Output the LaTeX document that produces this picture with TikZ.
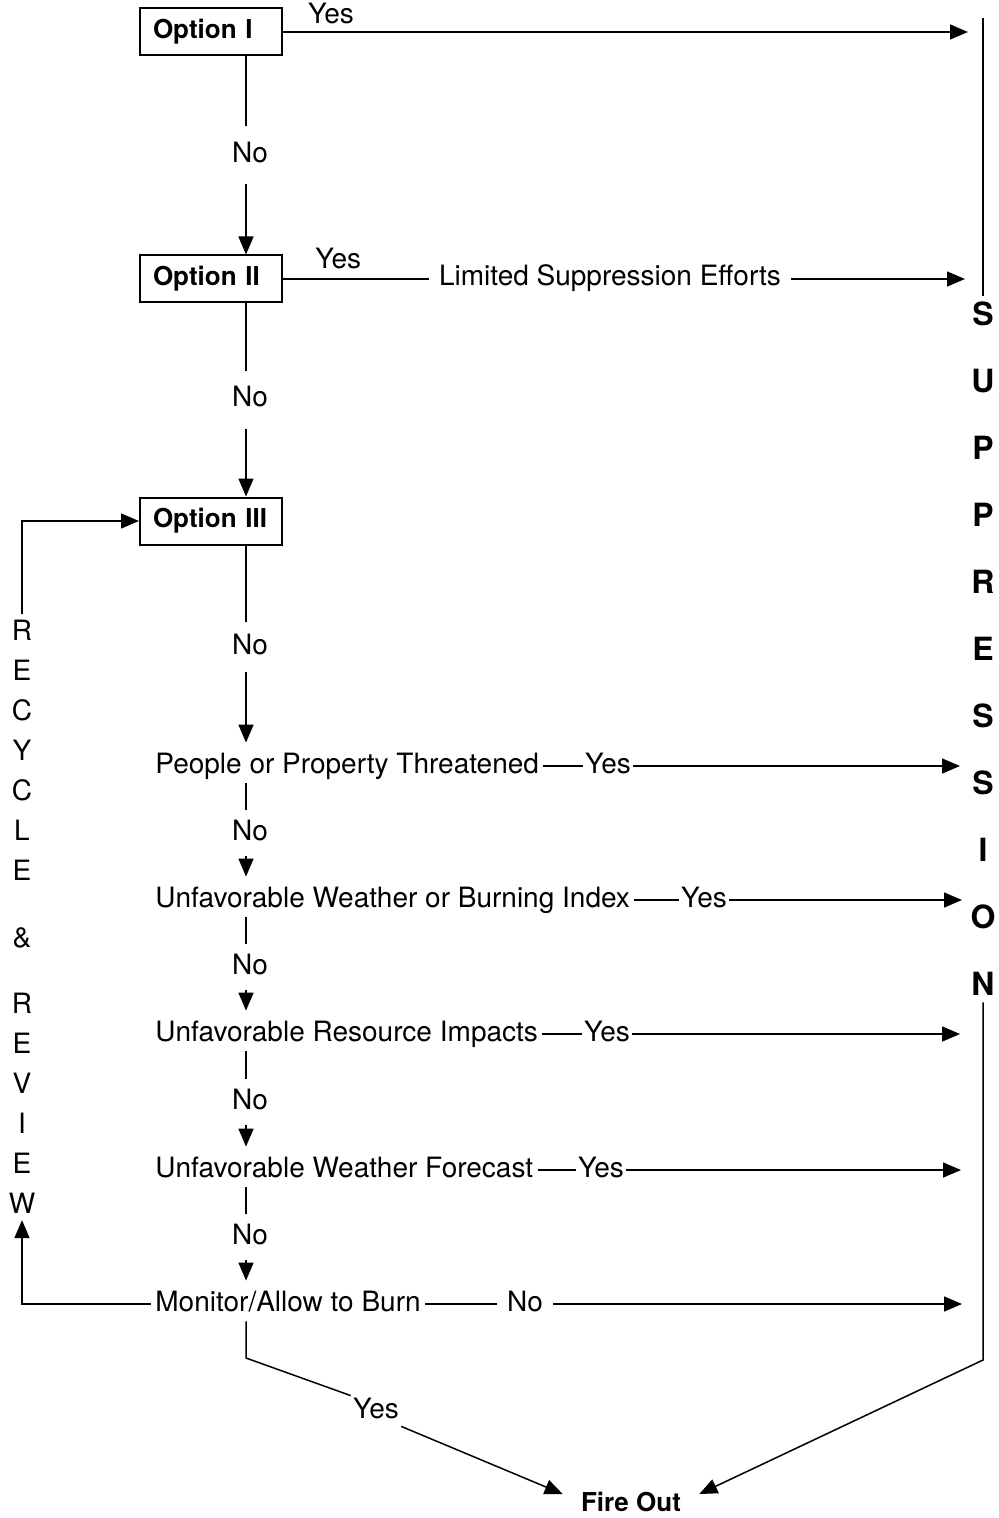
\documentclass[tikz,border=0pt]{standalone}
\usepackage{fontspec}
\setmainfont{TeX Gyre Heros}
\usetikzlibrary{arrows.meta}
\tikzset{
  optbox/.style={draw,line width=1pt,text width=58pt,align=left,inner xsep=6.5pt,minimum height=23.5pt,font=\bfseries\fontsize{13}{15}\selectfont},
  crit/.style={anchor=west,inner sep=2pt,text height=10pt,text depth=3pt,font=\fontsize{14}{16}\selectfont},
  lbl/.style={fill=white,inner sep=1pt,text height=10pt,text depth=3pt,font=\fontsize{14}{16}\selectfont},
  flow/.style={line width=0.75pt,-{Triangle[length=9pt,width=7.5pt]}},
  link/.style={line width=0.75pt}
}
\begin{document}
\begin{tikzpicture}[x=0.5pt,y=-0.5pt]
	\useasboundingbox (0,0) rectangle (999,1518);
	% option boxes
	\node[optbox] (opt1) at (211,32) {Option I};
	\node[optbox] (opt2) at (211,279) {Option II};
	\node[optbox] (opt3) at (211,521) {Option III};
	% questions
	\node[crit] (q1) at (151,766) {People or Property Threatened};
	\node[crit] (q2) at (151,900) {Unfavorable Weather or Burning Index};
	\node[crit] (q3) at (151,1034) {Unfavorable Resource Impacts};
	\node[crit] (q4) at (151,1170) {Unfavorable Weather Forecast};
	\node[crit] (mon) at (151,1304) {Monitor/Allow to Burn};
	\node[font=\bfseries\fontsize{13}{15}\selectfont,inner xsep=9pt] (fire) at (631,1502) {Fire Out};
	\node[lbl,inner xsep=5pt] (lse) at (610,279) {Limited Suppression Efforts};
	% side captions
	\node[font=\bfseries\fontsize{16}{33.5}\selectfont,align=center,inner sep=3pt] (supp) at (983,649) {S\\U\\P\\P\\R\\E\\S\\S\\I\\O\\N};
	\node[font=\fontsize{14}{20}\selectfont,align=center,inner sep=3pt] (recyc) at (22,917) {R\\E\\C\\Y\\C\\L\\E\\[13.5pt]\&\\[13pt]R\\E\\V\\I\\E\\W};
	% yes/no labels on the rows
	\node[lbl] (y1) at (608,766) {Yes};
	\node[lbl] (y2) at (704,900) {Yes};
	\node[lbl] (y3) at (607,1034) {Yes};
	\node[lbl] (y4) at (601,1170) {Yes};
	\node[lbl,inner xsep=5pt] (n5) at (525,1304) {No};
	\node[lbl] (y5) at (376,1411) {Yes};
	% free ends
	\coordinate (col) at (246,0);
	\coordinate (top) at (983,18);
	\coordinate (e1) at (968,32);
	\coordinate (e2) at (965,279);
	\coordinate (e3) at (960,766);
	\coordinate (e4) at (962,900);
	\coordinate (e5) at (960,1034);
	\coordinate (e6) at (961,1170);
	\coordinate (e7) at (962,1304);
	\coordinate (bend1) at (246,1358);
	\coordinate (bend2) at (983,1360);
	% down the column
	\draw[flow] (opt1.south -| col) -- node[lbl,inner ysep=8pt,xshift=2pt] {No} (opt2.north -| col);
	\draw[flow] (opt2.south -| col) -- node[lbl,inner ysep=8pt,xshift=2pt] {No} (opt3.north -| col);
	\draw[flow,shorten >=3pt] (opt3.south -| col) -- node[lbl,inner ysep=6pt,xshift=2pt] {No} (q1.north -| col);
	\draw[flow,shorten >=3pt] (q1.south -| col) -- node[lbl,inner ysep=5pt,xshift=2pt] {No} (q2.north -| col);
	\draw[flow,shorten >=3pt] (q2.south -| col) -- node[lbl,inner ysep=5pt,xshift=2pt] {No} (q3.north -| col);
	\draw[flow,shorten >=3pt] (q3.south -| col) -- node[lbl,inner ysep=5pt,xshift=2pt] {No} (q4.north -| col);
	\draw[flow,shorten >=3pt] (q4.south -| col) -- node[lbl,inner ysep=5pt,xshift=2pt] {No} (mon.north -| col);
	% to suppression
	\draw[flow] (opt1.east) -- node[lbl,above=0pt,pos=0.07] {Yes} (e1);
	\draw[link] (opt2.east) -- node[lbl,above=1pt,pos=0.38] {Yes} (lse.west);
	\draw[flow] (lse.east) -- (e2);
	\draw[link] (q1.east) -- (y1.west);
	\draw[flow] (y1.east) -- (e3);
	\draw[link] (q2.east) -- (y2.west);
	\draw[flow] (y2.east) -- (e4);
	\draw[link] (q3.east) -- (y3.west);
	\draw[flow] (y3.east) -- (e5);
	\draw[link] (q4.east) -- (y4.west);
	\draw[flow] (y4.east) -- (e6);
	\draw[link] (mon.east) -- (n5.west);
	\draw[flow] (n5.east) -- (e7);
	\draw[link] (top) -- (supp.north);
	% recycle loop
	\draw[flow] (recyc.north) |- (opt3.west);
	\draw[flow] (mon.west) -| (recyc.south);
	% fire out
	\draw[link] (mon.south -| col) -- (bend1) -- (y5.north west);
	\draw[flow] (y5.south east) -- ([yshift=4pt]fire.west);
	\draw[flow] (supp.south) -- (bend2) -- ([yshift=4pt]fire.east);
\end{tikzpicture}
\end{document}
